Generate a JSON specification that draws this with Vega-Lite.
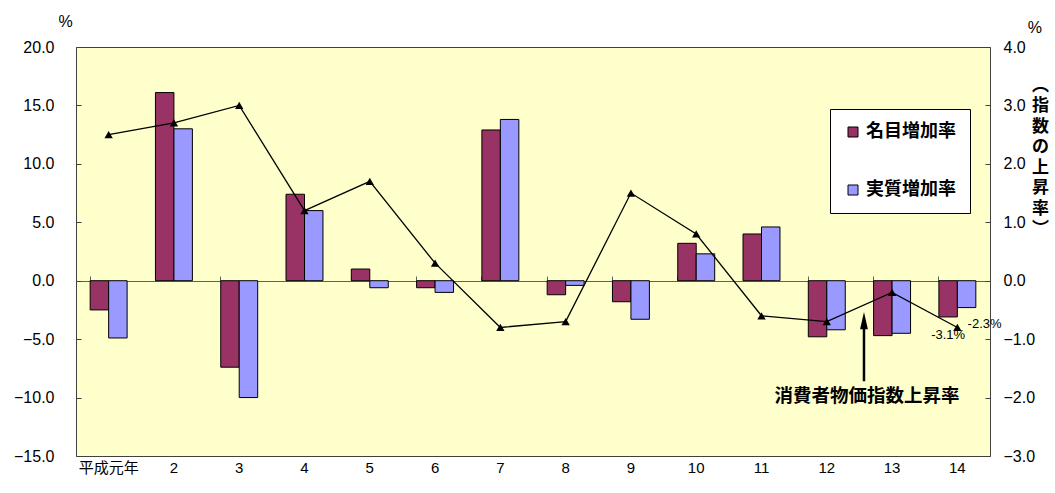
{
  "$schema": "https://vega.github.io/schema/vega-lite/v6.json",
  "width": 914,
  "height": 409,
  "autosize": {"type": "none"},
  "padding": {"left": 76, "top": 47, "right": 65, "bottom": 37},
  "background": "white",
  "config": {
    "view": {"fill": "#FFFFCC", "stroke": "#404040", "strokeWidth": 1},
    "axis": {"labelColor": "#000", "titleColor": "#000", "grid": false}
  },
  "datasets": {
    "bars": [
      {"year": "平成元年", "type": "名目増加率", "value": -2.5},
      {"year": "平成元年", "type": "実質増加率", "value": -4.9},
      {"year": "2", "type": "名目増加率", "value": 16.1},
      {"year": "2", "type": "実質増加率", "value": 13.0},
      {"year": "3", "type": "名目増加率", "value": -7.4},
      {"year": "3", "type": "実質増加率", "value": -10.0},
      {"year": "4", "type": "名目増加率", "value": 7.4},
      {"year": "4", "type": "実質増加率", "value": 6.0},
      {"year": "5", "type": "名目増加率", "value": 1.0},
      {"year": "5", "type": "実質増加率", "value": -0.6},
      {"year": "6", "type": "名目増加率", "value": -0.6},
      {"year": "6", "type": "実質増加率", "value": -1.0},
      {"year": "7", "type": "名目増加率", "value": 12.9},
      {"year": "7", "type": "実質増加率", "value": 13.8},
      {"year": "8", "type": "名目増加率", "value": -1.2},
      {"year": "8", "type": "実質増加率", "value": -0.4},
      {"year": "9", "type": "名目増加率", "value": -1.8},
      {"year": "9", "type": "実質増加率", "value": -3.3},
      {"year": "10", "type": "名目増加率", "value": 3.2},
      {"year": "10", "type": "実質増加率", "value": 2.3},
      {"year": "11", "type": "名目増加率", "value": 4.0},
      {"year": "11", "type": "実質増加率", "value": 4.6},
      {"year": "12", "type": "名目増加率", "value": -4.8},
      {"year": "12", "type": "実質増加率", "value": -4.2},
      {"year": "13", "type": "名目増加率", "value": -4.7},
      {"year": "13", "type": "実質増加率", "value": -4.5},
      {"year": "14", "type": "名目増加率", "value": -3.1, "label": "-3.1%"},
      {"year": "14", "type": "実質増加率", "value": -2.3, "label": "-2.3%"}
    ],
    "cpi": [
      {"year": "平成元年", "cpi": 2.5},
      {"year": "2", "cpi": 2.7},
      {"year": "3", "cpi": 3.0},
      {"year": "4", "cpi": 1.2},
      {"year": "5", "cpi": 1.7},
      {"year": "6", "cpi": 0.3},
      {"year": "7", "cpi": -0.8},
      {"year": "8", "cpi": -0.7},
      {"year": "9", "cpi": 1.5},
      {"year": "10", "cpi": 0.8},
      {"year": "11", "cpi": -0.6},
      {"year": "12", "cpi": -0.7},
      {"year": "13", "cpi": -0.2},
      {"year": "14", "cpi": -0.8}
    ],
    "one": [{"note": "消費者物価指数上昇率"}]
  },
  "layer": [
    {
      "layer": [
        {
          "data": {"name": "bars"},
          "mark": {"type": "bar", "stroke": "#000", "strokeWidth": 1},
          "encoding": {
            "x": {
              "field": "year", "type": "nominal",
              "scale": {"domain": ["平成元年","2","3","4","5","6","7","8","9","10","11","12","13","14"], "paddingInner": 0.434, "paddingOuter": 0.217},
              "axis": {"orient": "bottom", "domain": false, "ticks": false, "labelAngle": 0, "labelFont": "Liberation Sans, Noto Sans CJK JP", "labelFontSize": 15, "labelPadding": 4, "title": null}
            },
            "xOffset": {"field": "type", "type": "nominal", "scale": {"domain": ["名目増加率", "実質増加率"], "paddingInner": 0, "paddingOuter": 0}},
            "y": {
              "field": "value", "type": "quantitative",
              "scale": {"domain": [-15, 20], "nice": false, "zero": false},
              "axis": {"orient": "left", "values": [-15,-10,-5,0,5,10,15,20], "format": ".1f", "domain": false, "ticks": true, "tickSize": -5, "tickColor": "#404040", "labelPadding": 27, "labelFont": "Liberation Sans", "labelFontSize": 16, "title": "%", "titleAngle": 0, "titleX": -11, "titleY": -26, "titleAlign": "center", "titleBaseline": "middle", "titleFont": "Liberation Sans", "titleFontSize": 16, "titleFontWeight": "normal"}
            },
            "color": {
              "field": "type", "type": "nominal",
              "scale": {"domain": ["名目増加率", "実質増加率"], "range": ["#993366", "#9999FF"]},
              "legend": {"orient": "none", "legendX": 754, "legendY": 62, "title": null, "fillColor": "white", "strokeColor": "#000", "padding": 14, "symbolType": "square", "symbolSize": 100, "symbolStrokeColor": "#000", "symbolStrokeWidth": 1, "labelFont": "Noto Sans CJK JP", "labelFontSize": 18, "labelFontWeight": "bold", "labelColor": "#000", "labelOffset": 4, "rowPadding": 40}
            }
          }
        },
        {
          "data": {"name": "bars"},
          "transform": [{"filter": "datum.label && datum.type === '名目増加率'"}],
          "mark": {"type": "text", "font": "Liberation Sans Narrow, Liberation Sans", "fontSize": 13, "align": "center", "baseline": "middle", "dy": 18, "color": "#000"},
          "encoding": {
            "x": {"field": "year", "type": "nominal", "scale": {"domain": ["平成元年","2","3","4","5","6","7","8","9","10","11","12","13","14"]}},
            "xOffset": {"field": "type", "type": "nominal", "scale": {"domain": ["名目増加率", "実質増加率"]}},
            "y": {"field": "value", "type": "quantitative"},
            "text": {"field": "label"}
          }
        },
        {
          "data": {"name": "bars"},
          "transform": [{"filter": "datum.label && datum.type === '実質増加率'"}],
          "mark": {"type": "text", "font": "Liberation Sans Narrow, Liberation Sans", "fontSize": 13, "align": "left", "baseline": "middle", "dx": 1, "dy": 16, "color": "#000"},
          "encoding": {
            "x": {"field": "year", "type": "nominal", "scale": {"domain": ["平成元年","2","3","4","5","6","7","8","9","10","11","12","13","14"]}},
            "xOffset": {"field": "type", "type": "nominal", "scale": {"domain": ["名目増加率", "実質増加率"]}},
            "y": {"field": "value", "type": "quantitative"},
            "text": {"field": "label"}
          }
        },
        {
          "data": {"name": "one"},
          "mark": {"type": "rule", "color": "#000", "strokeWidth": 2.5},
          "encoding": {
            "x": {"datum": "13", "type": "nominal", "bandPosition": -0.26},
            "y": {"datum": -3.4, "type": "quantitative"},
            "y2": {"datum": -8.6}
          }
        },
        {
          "data": {"name": "one"},
          "mark": {"type": "point", "shape": "M-0.45,1L0,-1L0.45,1Z", "filled": true, "color": "#000", "size": 300, "opacity": 1},
          "encoding": {
            "x": {"datum": "13", "type": "nominal", "bandPosition": -0.26},
            "y": {"datum": -3.42, "type": "quantitative"}
          }
        },
        {
          "data": {"name": "one"},
          "mark": {"type": "text", "font": "Noto Sans CJK JP", "fontSize": 18.5, "fontWeight": "bold", "align": "center", "baseline": "middle", "color": "#000"},
          "encoding": {
            "x": {"datum": "13", "type": "nominal", "bandPosition": -0.18},
            "y": {"datum": -9.84, "type": "quantitative"},
            "text": {"field": "note"}
          }
        }
      ]
    },
    {
      "layer": [
        {
          "data": {"name": "cpi"},
          "mark": {"type": "line", "color": "#000", "strokeWidth": 1.3},
          "encoding": {
            "x": {
              "field": "year", "type": "nominal",
              "scale": {"domain": ["平成元年","2","3","4","5","6","7","8","9","10","11","12","13","14"]},
              "axis": {"orient": "top", "offset": -234, "labels": false, "domain": true, "domainColor": "#606060", "ticks": true, "tickColor": "#606060", "tickSize": 5, "bandPosition": 0, "title": null}
            },
            "y": {
              "field": "cpi", "type": "quantitative",
              "scale": {"domain": [-3, 4], "nice": false, "zero": false},
              "axis": {"orient": "right", "values": [-3,-2,-1,0,1,2,3,4], "format": ".1f", "domain": false, "ticks": true, "tickSize": -5, "tickColor": "#404040", "labelPadding": 18, "labelFont": "Liberation Sans", "labelFontSize": 16,
                "title": ["︵", "指", "数", "の", "上", "昇", "率", "︶"], "titleAngle": 0, "titleX": 50, "titleY": 30, "titleAlign": "center", "titleBaseline": "top", "titleFont": "Noto Sans CJK JP", "titleFontSize": 17, "titleFontWeight": "bold", "titleLineHeight": 20.5}
            }
          }
        },
        {
          "data": {"name": "cpi"},
          "mark": {"type": "point", "shape": "triangle-up", "filled": true, "color": "#000", "size": 70, "opacity": 1},
          "encoding": {
            "x": {"field": "year", "type": "nominal", "scale": {"domain": ["平成元年","2","3","4","5","6","7","8","9","10","11","12","13","14"]}},
            "y": {"field": "cpi", "type": "quantitative", "scale": {"domain": [-3, 4], "nice": false, "zero": false}}
          }
        },
        {
          "data": {"name": "one"},
          "mark": {"type": "text", "text": "%", "font": "Liberation Sans", "fontSize": 16, "align": "center", "baseline": "middle", "dx": 59, "color": "#000"},
          "encoding": {
            "x": {"datum": "14", "type": "nominal", "bandPosition": 1},
            "y": {"datum": 4.33, "type": "quantitative", "scale": {"domain": [-3, 4], "nice": false, "zero": false}}
          }
        }
      ]
    }
  ],
  "resolve": {"scale": {"y": "independent"}, "axis": {"x": "independent"}}
}
